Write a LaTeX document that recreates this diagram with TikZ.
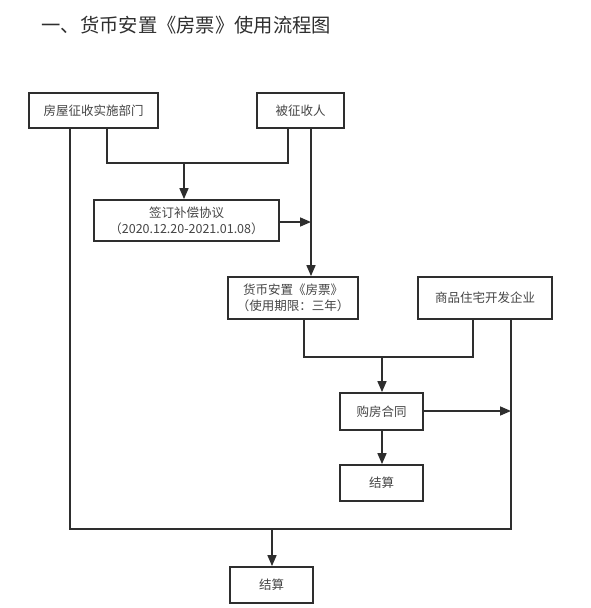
\documentclass[tikz,border=0pt]{standalone}
\usepackage{fontspec}
\setmainfont{Noto Sans CJK SC}
\usetikzlibrary{arrows.meta}
\definecolor{ink}{HTML}{2E2E2E}
\definecolor{txt}{HTML}{454545}
\tikzset{
  box/.style={draw=ink, line width=1.8pt, fill=white, inner sep=0pt, align=center,
    text=txt, font=\fontsize{12.5}{16}\selectfont},
  wire/.style={draw=ink, line width=1.6pt},
  arr/.style={wire, -{Triangle[length=11pt,width=9pt]}},
}
\begin{document}
\begin{tikzpicture}[x=1pt,y=-1pt]
\useasboundingbox (0,0) rectangle (591,608);
\node[anchor=west, text=ink, font=\fontsize{19.3}{21}\selectfont] (title) at (38,25) {一、货币安置《房票》使用流程图};

\node[box, minimum width=129pt, minimum height=35pt] (A) at (93.5,110.5) {房屋征收实施部门};
\node[box, minimum width=87pt, minimum height=35pt] (B) at (300.5,110.5) {被征收人};
\node[box, minimum width=185pt, minimum height=41pt] (C) at (186.5,220.5) {签订补偿协议\\（2020.12.20-2021.01.08）};
\node[box, minimum width=130pt, minimum height=42pt] (D) at (293,298) {货币安置《房票》\\（使用期限：三年）};
\node[box, minimum width=134pt, minimum height=42pt] (E) at (485,298) {商品住宅开发企业};
\node[box, minimum width=83pt, minimum height=37pt] (F) at (381.5,411.5) {购房合同};
\node[box, minimum width=83pt, minimum height=36pt] (G) at (381.5,483) {结算};
\node[box, minimum width=83pt, minimum height=36pt] (H) at (271.5,585) {结算};

\coordinate (j1) at (184,163);
\coordinate (j2) at (311,222);
\coordinate (j3) at (382,357);
\coordinate (j4) at (511,411);
\coordinate (j5) at (272,529);

% A + B -> C
\draw[wire] (A.south -| 107,0) |- (j1) -| (B.south -| 288,0);
\draw[arr] (j1) -- (C.north -| j1);
% B -> D
\draw[arr] (B.south -| 311,0) -- (D.north -| 311,0);
% C -> line
\draw[arr] (C.east |- j2) -- (j2);
% D + E -> F
\draw[wire] (D.south -| 304,0) |- (j3) -| (E.south -| 473,0);
\draw[arr] (j3) -- (F.north -| j3);
% F -> line
\draw[arr] (F.east |- j4) -- (j4);
% F -> G
\draw[arr] (F.south -| j3) -- (G.north -| j3);
% E + A -> H
\draw[wire] (E.south -| 511,0) |- (j5) -| (A.south -| 70,0);
\draw[arr] (j5) -- (H.north -| j5);
\end{tikzpicture}
\end{document}
